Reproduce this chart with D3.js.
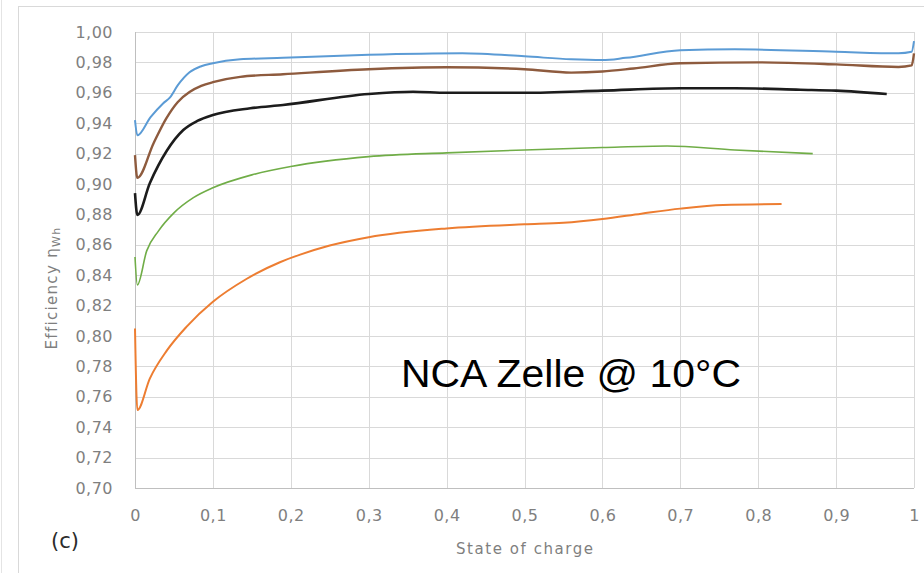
<!DOCTYPE html>
<html>
<head>
<meta charset="utf-8">
<script src="https://cdn.jsdelivr.net/npm/d3@7"></script>
<style>
  body { margin: 0; background: #fff; }
  svg { display: block; }
</style>
</head>
<body>
<div id="chart"></div>
<script>
// tick values
var xTicks = [0, 0.1, 0.2, 0.3, 0.4, 0.5, 0.6, 0.7, 0.8, 0.9, 1];
var yTicks = [0.70, 0.72, 0.74, 0.76, 0.78, 0.80, 0.82, 0.84, 0.86, 0.88, 0.90, 0.92, 0.94, 0.96, 0.98, 1.00];

// series (state of charge / efficiency)
var blueSoc = [0, 0.003, 0.02, 0.036, 0.045, 0.055, 0.07, 0.085, 0.1, 0.135, 0.19, 0.3, 0.42, 0.5, 0.56, 0.6, 0.63, 0.7, 0.77, 0.9, 0.98, 0.997, 1.0];
var blueEff = [0.942, 0.932, 0.944, 0.953, 0.957, 0.965, 0.9735, 0.9775, 0.9795, 0.982, 0.983, 0.985, 0.986, 0.984, 0.982, 0.9815, 0.983, 0.988, 0.9886, 0.987, 0.986, 0.987, 0.994];

var brownSoc = [0, 0.003, 0.024, 0.04, 0.055, 0.07, 0.085, 0.1, 0.135, 0.19, 0.3, 0.4, 0.5, 0.56, 0.6, 0.64, 0.7, 0.8, 0.9, 0.98, 0.997, 1.0];
var brownEff = [0.919, 0.904, 0.927, 0.943, 0.954, 0.9605, 0.9645, 0.967, 0.9705, 0.9722, 0.9755, 0.9768, 0.9755, 0.9733, 0.974, 0.976, 0.9794, 0.980, 0.9787, 0.977, 0.978, 0.986];

var blackSoc = [0, 0.003, 0.019, 0.041, 0.062, 0.08, 0.1, 0.148, 0.19, 0.3, 0.357, 0.4, 0.5, 0.6, 0.7, 0.77, 0.854, 0.9, 0.965];
var blackEff = [0.894, 0.8796, 0.9005, 0.922, 0.9355, 0.9415, 0.9454, 0.9498, 0.952, 0.9592, 0.9607, 0.960, 0.960, 0.9614, 0.963, 0.963, 0.962, 0.9614, 0.9592];

var greenSoc = [0, 0.003, 0.015, 0.03, 0.05, 0.075, 0.1, 0.15, 0.2, 0.3, 0.4, 0.5, 0.6, 0.683, 0.77, 0.87];
var greenEff = [0.852, 0.8336, 0.856, 0.869, 0.881, 0.891, 0.8975, 0.906, 0.9115, 0.918, 0.9205, 0.9224, 0.924, 0.925, 0.9224, 0.920];

var orangeSoc = [0, 0.003, 0.019, 0.041, 0.066, 0.1, 0.143, 0.186, 0.212, 0.25, 0.3, 0.4, 0.5, 0.55, 0.6, 0.65, 0.7, 0.755, 0.83];
var orangeEff = [0.805, 0.7513, 0.772, 0.7905, 0.806, 0.8225, 0.8375, 0.8485, 0.8535, 0.8595, 0.865, 0.8708, 0.8735, 0.8745, 0.877, 0.8805, 0.8838, 0.8862, 0.8868];

var series = [
  { soc: orangeSoc, eff: orangeEff, color: "#ed7d31", w: 2 },
  { soc: greenSoc, eff: greenEff, color: "#70ad47", w: 1.6 },
  { soc: blackSoc, eff: blackEff, color: "#1c1c1c", w: 2.6 },
  { soc: brownSoc, eff: brownEff, color: "#8e5b3e", w: 2.4 },
  { soc: blueSoc, eff: blueEff, color: "#5b9bd5", w: 2 }
];

// set the dimensions and margins of the graph
var W = 924, H = 573;
var margin = {top: 32, left: 135},
    width = 779,
    height = 456;

var svg = d3.select("#chart")
  .append("svg")
    .attr("width", W)
    .attr("height", H);

// outer chart frame
svg.append("rect")
  .attr("x", 18.5).attr("y", 6.5)
  .attr("width", W).attr("height", H)
  .attr("fill", "#fff")
  .attr("stroke", "#d9d9d9");
svg.append("line")
  .attr("x1", 1.5).attr("x2", 1.5).attr("y1", 0).attr("y2", H)
  .attr("stroke", "#e4e4e4");

var g = svg.append("g")
  .attr("transform", "translate(" + margin.left + "," + margin.top + ")");

var x = d3.scaleLinear().domain([0, 1]).range([0, width]);
var y = d3.scaleLinear().domain([0.70, 1.00]).range([height, 0]);

// gridlines
g.append("g")
  .attr("class", "grid")
  .attr("transform", "translate(0," + height + ")")
  .call(d3.axisBottom(x).tickValues(xTicks).tickSize(-height).tickFormat(""));
g.append("g")
  .attr("class", "grid")
  .call(d3.axisLeft(y).tickValues(yTicks).tickSize(-width).tickFormat(""));
g.selectAll(".grid .domain").remove();
g.selectAll(".grid line")
  .style("stroke", "#d9d9d9")
  .style("shape-rendering", "crispEdges");

// axis lines
g.append("line")
  .attr("x1", 0).attr("x2", width).attr("y1", height).attr("y2", height)
  .attr("stroke", "#bfbfbf").style("shape-rendering", "crispEdges");
g.append("line")
  .attr("x1", 0).attr("x2", 0).attr("y1", 0).attr("y2", height)
  .attr("stroke", "#bfbfbf").style("shape-rendering", "crispEdges");

var comma = function(s) { return s.replace(".", ","); };

// Y axis labels
var yAxis = g.append("g")
  .call(d3.axisLeft(y).tickValues(yTicks).tickSize(0).tickPadding(22)
    .tickFormat(function(d) { return comma(d3.format(".2f")(d)); }));
// X axis labels
var xAxis = g.append("g")
  .attr("transform", "translate(0," + height + ")")
  .call(d3.axisBottom(x).tickValues(xTicks).tickSize(0).tickPadding(22)
    .tickFormat(function(d) { return (d === 0 || d === 1) ? String(d) : comma(String(d)); }));
g.selectAll(".domain").remove();
[yAxis, xAxis].forEach(function(a) {
  a.selectAll("text")
    .attr("fill", "#7f7f7f")
    .style("font-family", "DejaVu Sans")
    .style("font-size", "16px")
    .style("letter-spacing", "0.5px");
});

// lines
var line = d3.line()
  .x(function(d) { return x(d[0]); })
  .y(function(d) { return y(d[1]); })
  .curve(d3.curveMonotoneX);

series.forEach(function(s) {
  g.append("path")
    .datum(d3.zip(s.soc, s.eff))
    .attr("fill", "none")
    .attr("stroke", s.color)
    .attr("stroke-width", s.w)
    .attr("stroke-linejoin", "round")
    .attr("d", line);
});

// X axis title
svg.append("text")
  .attr("x", margin.left + width / 2)
  .attr("y", 554)
  .attr("text-anchor", "middle")
  .attr("fill", "#7f7f7f")
  .style("font-family", "DejaVu Sans")
  .style("font-size", "15px")
  .attr("textLength", 137)
  .text("State of charge");

// Y axis title
var yt = svg.append("text")
  .attr("transform", "translate(57,288) rotate(-90)")
  .attr("text-anchor", "middle")
  .attr("fill", "#7f7f7f")
  .style("font-family", "DejaVu Sans")
  .style("font-size", "15px")
  .style("letter-spacing", "1.3px");
yt.append("tspan").text("Efficiency η");
yt.append("tspan").attr("dy", 3).style("font-size", "11px").text("Wh");

// panel label
svg.append("text")
  .attr("x", 65).attr("y", 548)
  .attr("text-anchor", "middle")
  .attr("fill", "#2b2b2b")
  .style("font-family", "DejaVu Sans")
  .style("font-size", "21px")
  .text("(c)");

// annotation
svg.append("text")
  .attr("x", 401).attr("y", 387)
  .attr("fill", "#000")
  .style("font-family", "Liberation Sans")
  .style("font-size", "39px")
  .attr("textLength", 340)
  .attr("lengthAdjust", "spacingAndGlyphs")
  .text("NCA Zelle @ 10°C");
</script>
</body>
</html>
